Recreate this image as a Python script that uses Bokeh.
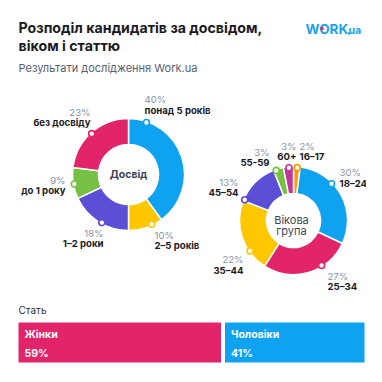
import numpy as np
from bokeh.plotting import figure
from bokeh.models import Range1d, ColumnDataSource
from bokeh.core.properties import value
from bokeh.embed import file_html
from bokeh.resources import INLINE

# ---------------- data ----------------
title_lines = ["Розподіл кандидатів за досвідом,", "віком і статтю"]
subtitle = "Результати дослідження Work.ua"

exp_title = "Досвід"
exp_labels = ["понад 5 років", "2–5 років", "1–2 роки", "до 1 року", "без досвіду"]
exp_values = [40, 10, 18, 9, 23]

age_title = ["Вікова", "група"]
age_labels = ["16–17", "18–24", "25–34", "35–44", "45–54", "55-59", "60+"]
age_values = [2, 30, 27, 22, 13, 3, 3]

gender_title = "Стать"
gender_labels = ["Жінки", "Чоловіки"]
gender_values = [59, 41]

# ---------------- styles / layout ----------------
BLUE, PINK, YELLOW, PURPLE, GREEN, ORANGE, MAGENTA = (
    "#0ea2f0", "#e2256a", "#ffc700", "#5a4fd6", "#76c043", "#ff9a00", "#c2369b")
exp_colors = [BLUE, YELLOW, PURPLE, GREEN, PINK]
age_colors = [ORANGE, BLUE, PINK, YELLOW, PURPLE, GREEN, MAGENTA]
gender_colors = [PINK, BLUE]
GRAY = "#8793a6"
DARK = "#1b1b1f"
MID = "#3b4658"
FONT = "Inter"

W = H = 366
def Y(py):  # page pixel row -> data y
    return 382 - py

p = figure(width=W, height=H, output_backend="svg", toolbar_location=None,
           x_range=Range1d(0, 366), y_range=Range1d(16, 382),
           x_axis_location=None, y_axis_location=None, min_border=0,
           outline_line_color=None, background_fill_color="white",
           border_fill_color="white")
p.grid.visible = False

def txt(x, y, t, size, color, style="normal", align="left", **kw):
    p.text(x=[x], y=[Y(y)], text=[t], text_font=value(FONT), text_font_size=size,
           text_color=color, text_font_style=style, text_align=align,
           text_baseline="middle", **kw)

# title
txt(18, 27, title_lines[0], "14.2px", DARK, "bold")
txt(18, 45, title_lines[1], "14.2px", DARK, "bold")
txt(18, 67, subtitle, "11px", "#566072")
# logo
txt(305, 28, "WORK", "13.5px", "#1ba3ea", "bold")
txt(348, 30, "ua", "10.5px", "#1ba3ea", "bold")


def donut(cx, cy, r_in, r_out, values, colors, labels, dot_angles, lab_layout):
    vals = np.array(values, dtype=float)
    frac = vals / vals.sum()
    cum = np.concatenate([[0], np.cumsum(frac)]) * 2 * np.pi
    start = np.pi / 2 - cum[1:]
    end = np.pi / 2 - cum[:-1]
    src = ColumnDataSource(dict(start=start, end=end, color=colors))
    p.annular_wedge(x=cx, y=Y(cy), inner_radius=r_in, outer_radius=r_out,
                    start_angle="start", end_angle="end", direction="anticlock",
                    fill_color="color", line_color="white", line_width=1.5, source=src)
    da = np.deg2rad(np.array(dot_angles))
    r_dot = r_out - 1
    dx = cx + r_dot * np.sin(da)
    dy = Y(cy) + r_dot * np.cos(da)
    p.scatter(x=dx, y=dy, size=6, fill_color="white", line_color=colors, line_width=1.6)
    for i, (v, lab) in enumerate(zip(values, labels)):
        lx, py1, py2, al = lab_layout[i]
        txt(lx, py1, f"{v}%", "9.6px", GRAY, "normal", al)
        txt(lx, py2, lab, "9.6px", DARK, "bold", al)

# experience donut
donut(128, 174, 30, 56, exp_values, exp_colors, exp_labels,
      [19, 155, 209, 260, 318],
      [(144, 99, 110, "left"), (154, 235, 245, "left"), (103, 233, 243, "right"),
       (65, 180, 190, "right"), (90, 112, 122, "right")])
txt(128, 174, exp_title, "10.5px", MID, "bold", "center")

# age donut
donut(293, 220, 27, 54, age_values, age_colors, age_labels,
      [4, 46, 148, 235, 293, 341, 355],
      [(299, 146, 156, "left"), (339, 172, 183, "left"), (327, 276, 286, "left"),
       (243, 259, 270, "right"), (238, 182, 192, "right"), (269, 152, 162, "right"),
       (296, 146, 156, "right")])
txt(291, 219, age_title[0], "11px", MID, "normal", "center")
txt(291, 230, age_title[1], "11px", MID, "normal", "center")

# gender bar
txt(18, 309, gender_title, "10px", "#2a2f3a", "normal")
# percent range: 0 -> page x 16, 100 -> page x 366 (white 4px stroke trims 2px each side)
scale = 350 / 100.0
p.extra_x_ranges = {"pct": Range1d(start=-16 / scale, end=100)}
gv = np.array(gender_values, dtype=float)
gleft = np.concatenate([[0], np.cumsum(gv)[:-1]])
gright = np.cumsum(gv)
gsrc = ColumnDataSource(dict(left=gleft, right=gright, color=gender_colors,
                             lab=gender_labels, pct=[f"{v}%" for v in gender_values]))
p.quad(left="left", right="right", bottom=Y(364), top=Y(320), fill_color="color",
       line_color="white", line_width=4, x_range_name="pct", source=gsrc)
p.text(x="left", y=Y(334), text="lab", x_offset=8, x_range_name="pct", source=gsrc,
       text_font=value(FONT), text_font_size="10.5px", text_color="white",
       text_font_style="bold", text_baseline="middle")
p.text(x="left", y=Y(353), text="pct", x_offset=8, x_range_name="pct", source=gsrc,
       text_font=value(FONT), text_font_size="10.5px", text_color="white",
       text_font_style="bold", text_baseline="middle")
# logo accent dot in the "O"
p.scatter(x=[321.5], y=[Y(28)], size=3.5, fill_color=PINK, line_color=None)
p.scatter(x=[348.5], y=[Y(33)], size=2.5, fill_color="#1ba3ea", line_color=None)

open("out.html", "w").write(file_html(p, INLINE))
